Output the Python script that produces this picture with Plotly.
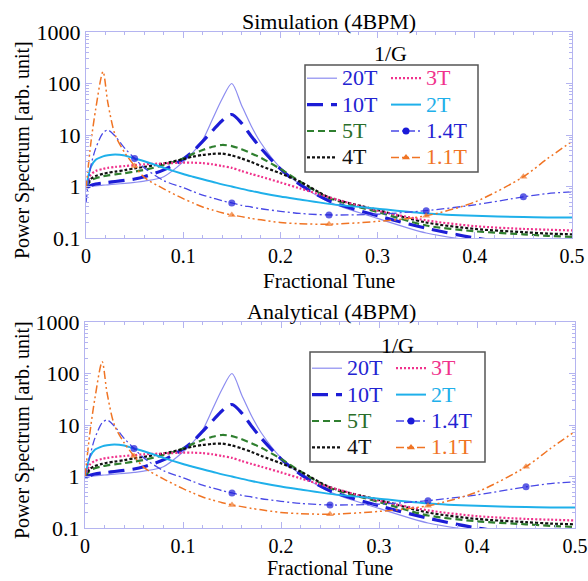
import plotly.graph_objects as go

W, H = 588, 581

# ---------------- data ----------------
tune = [0, 0.005, 0.01, 0.0175, 0.0225, 0.03, 0.04, 0.05, 0.06, 0.08, 0.1, 0.11, 0.12, 0.13,
        0.14, 0.15, 0.16, 0.17, 0.18, 0.2, 0.22, 0.25, 0.3, 0.35, 0.4, 0.45, 0.475, 0.5]

labels = ["20T", "10T", "5T", "4T", "3T", "2T", "1.4T", "1.1T"]

sim_20T = [0.95, 1.0, 1.03, 1.06, 1.08, 1.11, 1.15, 1.2, 1.27, 1.55, 3.0, 4.6, 8, 20, 50, 100,
           38, 15, 7, 2.3, 1.1, 0.5, 0.24, 0.125, 0.088, 0.07, 0.065, 0.062]
sim_10T = [0.9, 1.05, 1.12, 1.17, 1.2, 1.25, 1.32, 1.4, 1.55, 2.1, 3.4, 4.8, 7.5, 12, 19, 25,
           17, 9.5, 5.5, 2.2, 1.1, 0.53, 0.27, 0.155, 0.1, 0.075, 0.068, 0.065]
sim_5T = [0.95, 1.3, 1.45, 1.58, 1.64, 1.72, 1.82, 1.94, 2.1, 2.6, 3.5, 4.3, 5.1, 5.9, 6.4, 6.1,
          5.3, 4.4, 3.6, 2.2, 1.25, 0.6, 0.32, 0.175, 0.135, 0.118, 0.11, 0.105]
sim_4T = [0.95, 1.4, 1.6, 1.76, 1.85, 1.94, 2.08, 2.25, 2.4, 2.8, 3.4, 3.8, 4.1, 4.3, 4.35, 4.0,
          3.5, 3.0, 2.5, 1.8, 1.25, 0.62, 0.35, 0.2, 0.15, 0.13, 0.122, 0.118]
sim_3T = [0.95, 1.7, 2.0, 2.2, 2.3, 2.4, 2.5, 2.6, 2.7, 2.8, 2.9, 2.9, 2.85, 2.7, 2.5, 2.3,
          2.0, 1.75, 1.55, 1.2, 0.92, 0.62, 0.34, 0.22, 0.17, 0.15, 0.145, 0.14]
sim_2T = [0.92, 2.4, 3.3, 3.85, 4.05, 4.2, 4.0, 3.5, 3.1, 2.3, 1.75, 1.55, 1.38, 1.24, 1.1, 1.0,
          0.9, 0.82, 0.75, 0.64, 0.56, 0.46, 0.37, 0.3, 0.27, 0.255, 0.25, 0.25]
sim_14T = [0.48, 2.5, 5.5, 11, 12.5, 9.5, 5.5, 3.5, 2.3, 1.3, 0.95, 0.8, 0.68, 0.6, 0.53, 0.48,
           0.43, 0.4, 0.37, 0.33, 0.3, 0.28, 0.29, 0.34, 0.44, 0.63, 0.73, 0.79]
sim_11T = [0.9, 7, 32, 170, 42, 10, 4.5, 2.5, 1.5, 0.9, 0.58, 0.48, 0.4, 0.35, 0.31, 0.28,
           0.26, 0.24, 0.225, 0.2, 0.19, 0.185, 0.21, 0.27, 0.5, 1.55, 3.5, 7.5]

ana_20T = [1.0] + sim_20T[1:]
ana_10T = [1.0] + sim_10T[1:]
ana_5T = [1.0] + sim_5T[1:]
ana_4T = [1.0] + sim_4T[1:]
ana_3T = [1.0] + sim_3T[1:]
ana_2T = [1.0] + sim_2T[1:]
ana_14T = [1.0] + sim_14T[1:]
ana_11T = [1.0] + sim_11T[1:]

marker_tunes = [0.05, 0.15, 0.25, 0.35, 0.45]

sim_series = [sim_20T, sim_10T, sim_5T, sim_4T, sim_3T, sim_2T, sim_14T, sim_11T]
ana_series = [ana_20T, ana_10T, ana_5T, ana_4T, ana_3T, ana_2T, ana_14T, ana_11T]

# ---------------- styles ----------------
FONT = "Liberation Serif"
FRAME = "#b4b4f0"
styles = [
    dict(color="#8c8cf0", width=1.2, dash="solid", text="#2323d2", sym=None),
    dict(color="#1c1cd6", width=3.2, dash="16px,8px", text="#2323d2", sym=None),
    dict(color="#2f7f2f", width=2.2, dash="7px,4px", text="#2a6e2a", sym=None),
    dict(color="#111111", width=2.2, dash="3px,2px", text="#111111", sym=None),
    dict(color="#f0328c", width=2.2, dash="2px,2px", text="#f0328c", sym=None),
    dict(color="#1fb0ea", width=2.0, dash="solid", text="#1fb0ea", sym=None),
    dict(color="#4848e6", width=1.3, dash="8px,3px,2px,3px", text="#2323d2", sym="circle", mc="#1a1ad8"),
    dict(color="#f07424", width=1.5, dash="8px,3px,2px,3px,2px,3px", text="#f07424", sym="triangle-up", mc="#f07424"),
]

fig = go.Figure()


def px_x(p):
    return p / W


def px_y(p):
    return 1 - p / H


panels = [
    dict(series=sim_series, xa="x", ya="y", legs=("legend", "legend2")),
    dict(series=ana_series, xa="x2", ya="y2", legs=("legend3", "legend4")),
]

for pn in panels:
    for i, (lab, ys) in enumerate(zip(labels, pn["series"])):
        st = styles[i]
        if st["sym"]:
            sizes = [7 if t in marker_tunes else 0 for t in tune]
            fig.add_trace(go.Scatter(
                x=tune, y=ys, mode="lines+markers", xaxis=pn["xa"], yaxis=pn["ya"],
                line=dict(color=st["color"], width=st["width"], dash=st["dash"], shape="spline", smoothing=0.8),
                marker=dict(symbol=st["sym"], size=sizes, color=st["mc"], line=dict(width=0)),
                showlegend=False, hoverinfo="skip"))
        else:
            fig.add_trace(go.Scatter(
                x=tune, y=ys, mode="lines", xaxis=pn["xa"], yaxis=pn["ya"],
                line=dict(color=st["color"], width=st["width"], dash=st["dash"], shape="spline", smoothing=0.8),
                showlegend=False, hoverinfo="skip"))
    # legend-only entries
    for i, lab in enumerate(labels):
        st = styles[i]
        leg = pn["legs"][0] if i < 4 else pn["legs"][1]
        kw = dict(mode="lines")
        if st["sym"]:
            kw = dict(mode="lines+markers",
                      marker=dict(symbol=st["sym"], size=7, color=st["mc"], line=dict(width=0)))
        fig.add_trace(go.Scatter(
            x=[None], y=[None], xaxis=pn["xa"], yaxis=pn["ya"],
            name=f"<span style='color:{st['text']};font-size:22px'>{lab}</span>",
            line=dict(color=st["color"], width=st["width"], dash=st["dash"]),
            legend=leg, showlegend=True, **kw))

axis_common = dict(
    showline=True, linecolor=FRAME, linewidth=1, mirror="ticks",
    ticks="inside", tickcolor=FRAME, ticklen=6, showgrid=False, zeroline=False,
    automargin=False, ticklabeloverflow="allow",
)
xfont = dict(family=FONT, size=20, color="black")
yfont = dict(family=FONT, size=22, color="black")

xt = [0, 0.1, 0.2, 0.3, 0.4, 0.5]
xtt = ["0", "0.1", "0.2", "0.3", "0.4", "0.5"]
yt = [0.1, 1, 10, 100, 1000]
ytt = ["0.1", "1", "10", "100", "1000"]

top_dom_x = [px_x(86), px_x(572)]
top_dom_y = [px_y(238), px_y(32)]
bot_dom_x = [px_x(85), px_x(575)]
bot_dom_y = [px_y(528), px_y(322)]

fig.update_layout(
    width=W, height=H, margin=dict(l=0, r=0, t=0, b=0),
    paper_bgcolor="white", plot_bgcolor="white", template="none",
    font=dict(family=FONT, size=20, color="black"),
    xaxis=dict(domain=top_dom_x, range=[0, 0.5], tickvals=xt, ticktext=xtt, anchor="y", tickfont=xfont,
               minor=dict(ticks="inside", ticklen=3, tickcolor=FRAME, dtick=0.02), **axis_common),
    yaxis=dict(domain=top_dom_y, type="log", range=[-1, 3], tickvals=yt, ticktext=ytt, anchor="x", tickfont=yfont,
               minor=dict(ticks="inside", ticklen=3, tickcolor=FRAME, dtick="D1"), **axis_common),
    xaxis2=dict(domain=bot_dom_x, range=[0, 0.5], tickvals=xt, ticktext=xtt, anchor="y2", tickfont=xfont,
                minor=dict(ticks="inside", ticklen=3, tickcolor=FRAME, dtick=0.02), **axis_common),
    yaxis2=dict(domain=bot_dom_y, type="log", range=[-1, 3], tickvals=yt, ticktext=ytt, anchor="x2", tickfont=yfont,
                minor=dict(ticks="inside", ticklen=3, tickcolor=FRAME, dtick="D1"), **axis_common),
)

leg_common = dict(orientation="v", bgcolor="rgba(0,0,0,0)", borderwidth=0,
                  font=dict(family=FONT, size=18), xanchor="left", yanchor="top",
                  tracegroupgap=0, itemclick=False, itemdoubleclick=False)
fig.update_layout(
    legend=dict(x=px_x(302), y=px_y(60), **leg_common),
    legend2=dict(x=px_x(386), y=px_y(60), **leg_common),
    legend3=dict(x=px_x(307), y=px_y(350), **leg_common),
    legend4=dict(x=px_x(391), y=px_y(350), **leg_common),
)

# legend boxes
for (x0, y0, x1, y1) in [(305, 65, 478, 172), (310, 352, 485, 462)]:
    fig.add_shape(type="rect", xref="paper", yref="paper",
                  x0=px_x(x0), x1=px_x(x1), y0=px_y(y1), y1=px_y(y0),
                  line=dict(color="#555555", width=1.5), fillcolor="rgba(0,0,0,0)", layer="above")

ann = []
ann.append(dict(text="Simulation (4BPM)", x=px_x(329), y=px_y(21), size=22, ya="middle"))
ann.append(dict(text="Analytical (4BPM)", x=px_x(331), y=px_y(311), size=22, ya="middle"))
ann.append(dict(text="Fractional Tune", x=px_x(329), y=px_y(281), size=21, ya="middle"))
ann.append(dict(text="Fractional Tune", x=px_x(330), y=0, size=20, ya="bottom"))
ann.append(dict(text="1/G", x=px_x(390), y=px_y(53), size=22, ya="middle"))
ann.append(dict(text="1/G", x=px_x(397), y=px_y(345), size=22, ya="middle"))
for a in ann:
    sz = a.pop("size")
    ya = a.pop("ya")
    fig.add_annotation(xref="paper", yref="paper", showarrow=False, xanchor="center", yanchor=ya,
                       font=dict(family=FONT, size=sz, color="black"), **a)
for yc in (150, 430):
    fig.add_annotation(text="Power Spectrum [arb. unit]", xref="paper", yref="paper", showarrow=False,
                       x=px_x(22), y=px_y(yc), textangle=-90, xanchor="center", yanchor="middle",
                       font=dict(family=FONT, size=20, color="black"))

fig.write_html("out.html", config={"displayModeBar": False},
               post_script="document.body.style.margin='0';document.body.style.padding='0';")
